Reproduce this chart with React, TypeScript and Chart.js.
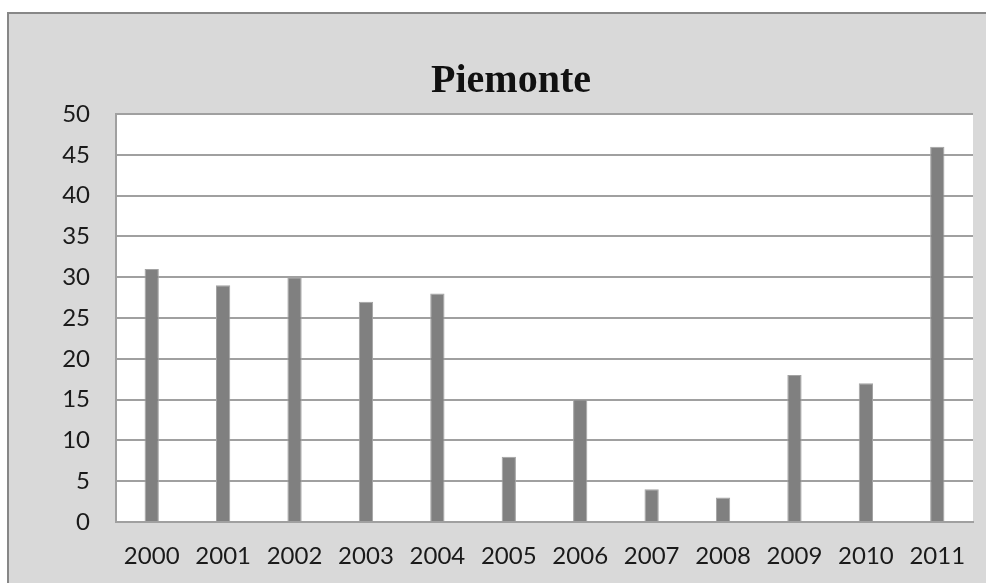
import React, { useEffect, useRef } from "react";
import { Chart, registerables } from "chart.js";

Chart.register(...registerables);

const TITLE = "Piemonte";
const years = ["2000", "2001", "2002", "2003", "2004", "2005", "2006", "2007", "2008", "2009", "2010", "2011"];
const values = [31, 29, 30, 27, 28, 8, 15, 4, 3, 18, 17, 46];
const yMin = 0;
const yMax = 50;
const yStep = 5;

const backgroundPlugin = {
  id: "bgPlugin",
  beforeDraw(chart: any) {
    const { ctx, width, height, chartArea } = chart;
    ctx.save();
    ctx.fillStyle = "#ffffff";
    ctx.fillRect(0, 0, width, height);
    ctx.fillStyle = "#d9d9d9";
    ctx.fillRect(8, 13, width - 8, height - 13);
    ctx.strokeStyle = "#878787";
    ctx.lineWidth = 2;
    ctx.beginPath();
    ctx.moveTo(8, height);
    ctx.lineTo(8, 13);
    ctx.lineTo(width, 13);
    ctx.stroke();
    ctx.fillStyle = "#ffffff";
    ctx.fillRect(chartArea.left, chartArea.top, chartArea.right - chartArea.left, chartArea.bottom - chartArea.top);
    ctx.restore();
  },
};

export default function App() {
  const ref = useRef<HTMLCanvasElement | null>(null);
  useEffect(() => {
    if (!ref.current) return;
    const chart = new Chart(ref.current, {
      type: "bar",
      data: {
        labels: years,
        datasets: [
          {
            data: values,
            backgroundColor: "#808080",
            borderColor: "#a3a3a3",
            borderWidth: { left: 1, right: 1, top: 1, bottom: 0 },
            categoryPercentage: 1,
            barPercentage: 0.2,
          },
        ],
      },
      plugins: [backgroundPlugin],
      options: {
        responsive: false,
        animation: false,
        devicePixelRatio: 1,
        layout: { padding: { left: 49, right: 13, top: 0, bottom: 0 } },
        plugins: {
          legend: { display: false },
          tooltip: { enabled: false },
          title: {
            display: true,
            text: TITLE,
            color: "#111111",
            font: { family: "'Liberation Serif', 'Times New Roman', serif", size: 40, weight: "bold", lineHeight: 1.2 },
            padding: { top: 58, bottom: 8 },
          },
        },
        scales: {
          x: {
            grid: { display: false, drawTicks: false },
            border: { display: true, color: "#a0a0a0", width: 2 },
            ticks: {
              color: "#1a1a1a",
              font: { family: "Lato, 'Open Sans', sans-serif", size: 24, lineHeight: 1.2 },
              padding: 20,
              maxRotation: 0,
              autoSkip: false,
            },
            afterFit(scale: any) {
              scale.height = 61;
            },
          },
          y: {
            min: yMin,
            max: yMax,
            grid: { color: "#a0a0a0", lineWidth: 2, drawTicks: false },
            border: { display: true, color: "#a0a0a0", width: 2 },
            ticks: {
              stepSize: yStep,
              color: "#1a1a1a",
              font: { family: "Lato, 'Open Sans', sans-serif", size: 24, lineHeight: 1.2 },
              padding: 26,
            },
            afterFit(scale: any) {
              scale.width = 67;
            },
          },
        },
      },
    } as any);
    return () => chart.destroy();
  }, []);
  return (
    <div style={{ position: "fixed", left: 0, top: 0, width: 986, height: 583, background: "#fff" }}>
      <canvas ref={ref} width={986} height={583} style={{ display: "block", width: 986, height: 583 }} />
    </div>
  );
}
